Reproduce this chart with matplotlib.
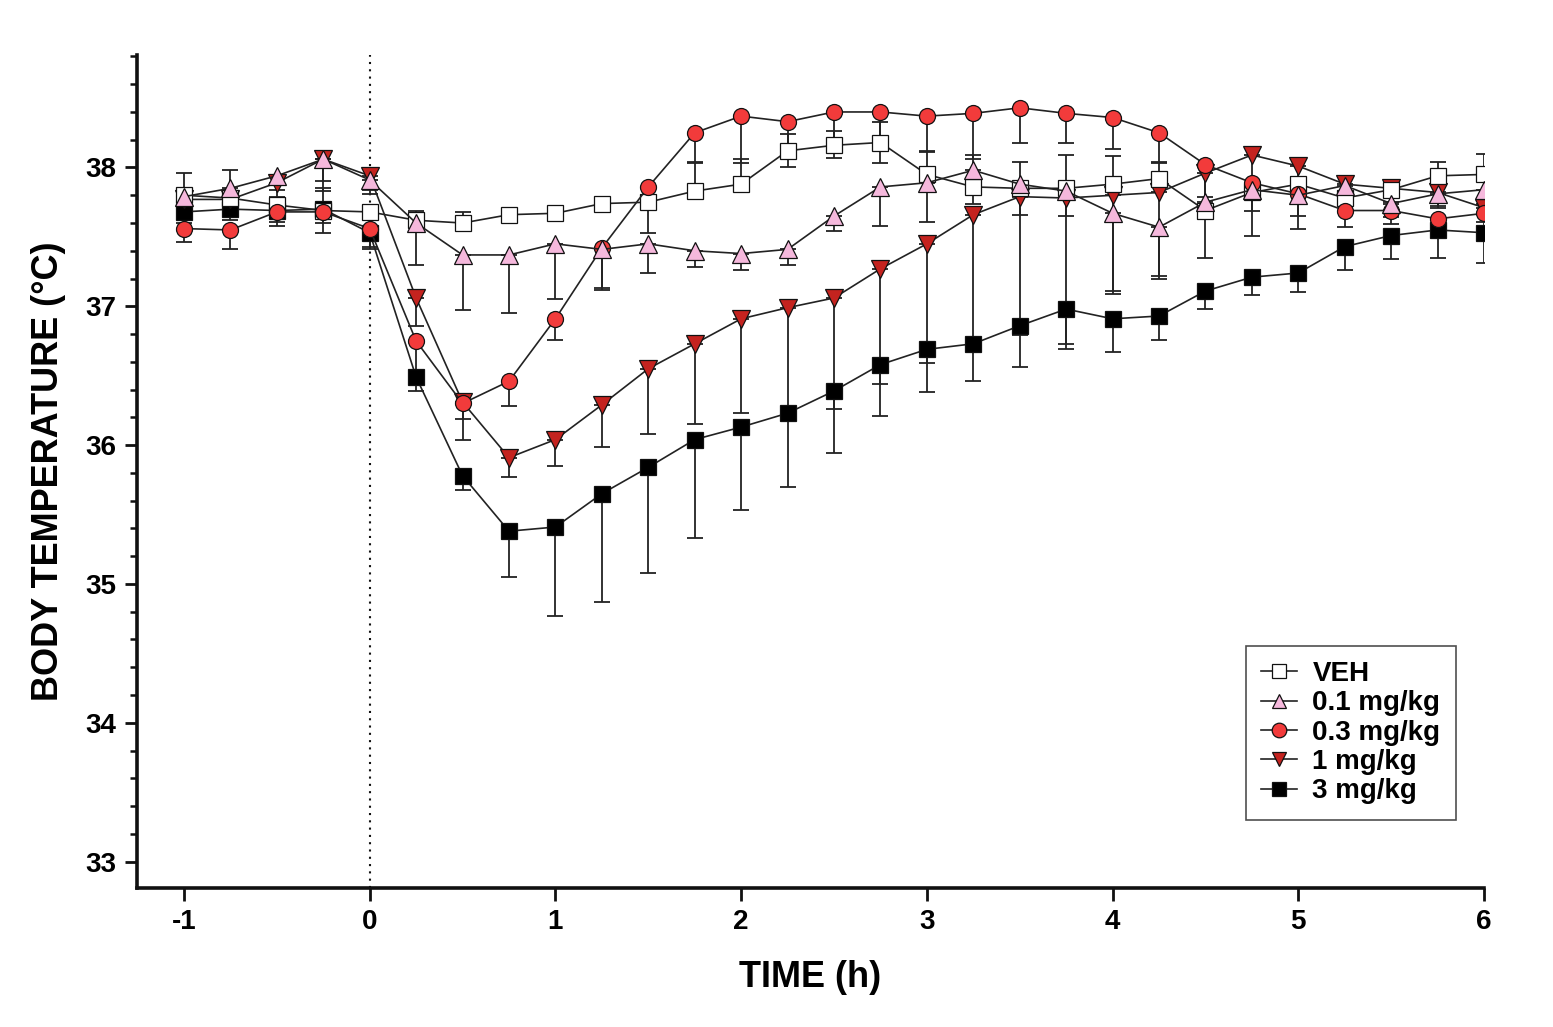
import numpy as np
import matplotlib
matplotlib.use("Agg")
import matplotlib.pyplot as plt
from matplotlib.ticker import MultipleLocator

plt.rcParams['font.family'] = ['Liberation Sans', 'DejaVu Sans']
plt.rcParams['axes.unicode_minus'] = False

time_h = [-1, -0.75, -0.5, -0.25, 0, 0.25, 0.5, 0.75, 1, 1.25, 1.5, 1.75, 2, 2.25, 2.5,
          2.75, 3, 3.25, 3.5, 3.75, 4, 4.25, 4.5, 4.75, 5, 5.25, 5.5, 5.75, 6]

veh = [37.80, 37.78, 37.73, 37.69, 37.68, 37.62, 37.60, 37.66, 37.67, 37.74, 37.75, 37.83, 37.88, 38.12, 38.16,
       38.18, 37.95, 37.86, 37.85, 37.85, 37.88, 37.92, 37.69, 37.82, 37.88, 37.78, 37.84, 37.94, 37.95]
veh_err = [0.16, 0.20, 0.06, 0.16, 0.05, 0.07, 0.08, 0.03, 0.03, 0.03, 0.05, 0.20, 0.18, 0.12, 0.10,
           0.15, 0.16, 0.23, 0.19, 0.24, 0.20, 0.12, 0.10, 0.05, 0.05, 0.05, 0.05, 0.10, 0.15]

dose01 = [37.79, 37.85, 37.94, 38.06, 37.91, 37.60, 37.37, 37.37, 37.45, 37.41, 37.45, 37.40, 37.38, 37.41, 37.65,
          37.86, 37.89, 37.98, 37.88, 37.83, 37.67, 37.57, 37.75, 37.84, 37.80, 37.87, 37.74, 37.81, 37.84]
dose01_err = [0.05, 0.05, 0.10, 0.16, 0.10, 0.30, 0.40, 0.42, 0.40, 0.29, 0.21, 0.12, 0.12, 0.11, 0.11,
              0.28, 0.28, 0.24, 0.22, 0.18, 0.58, 0.35, 0.40, 0.33, 0.24, 0.10, 0.10, 0.10, 0.10]

dose03 = [37.56, 37.55, 37.68, 37.68, 37.56, 36.75, 36.30, 36.46, 36.91, 37.42, 37.86, 38.25, 38.37, 38.33, 38.40,
          38.40, 38.37, 38.39, 38.43, 38.39, 38.36, 38.25, 38.02, 37.89, 37.81, 37.69, 37.69, 37.63, 37.67]
dose03_err = [0.10, 0.14, 0.10, 0.15, 0.15, 0.25, 0.11, 0.18, 0.15, 0.29, 0.33, 0.21, 0.34, 0.33, 0.33,
              0.37, 0.25, 0.33, 0.25, 0.21, 0.23, 0.22, 0.39, 0.20, 0.16, 0.12, 0.10, 0.10, 0.10]

dose1 = [37.77, 37.77, 37.89, 38.06, 37.94, 37.06, 36.31, 35.91, 36.04, 36.29, 36.55, 36.73, 36.91, 36.99, 37.06,
         37.27, 37.45, 37.66, 37.79, 37.78, 37.80, 37.82, 37.96, 38.09, 38.01, 37.88, 37.85, 37.82, 37.71]
dose1_err = [0.10, 0.10, 0.15, 0.23, 0.10, 0.20, 0.27, 0.14, 0.19, 0.30, 0.47, 0.58, 0.68, 0.75, 0.80,
             0.83, 0.86, 0.93, 1.00, 1.05, 0.69, 0.62, 0.30, 0.20, 0.20, 0.10, 0.10, 0.10, 0.10]

dose3 = [37.68, 37.70, 37.69, 37.70, 37.53, 36.49, 35.78, 35.38, 35.41, 35.65, 35.84, 36.04, 36.13, 36.23, 36.39,
         36.58, 36.69, 36.73, 36.86, 36.98, 36.91, 36.93, 37.11, 37.21, 37.24, 37.43, 37.51, 37.55, 37.53]
dose3_err = [0.08, 0.08, 0.08, 0.10, 0.10, 0.10, 0.10, 0.33, 0.64, 0.78, 0.76, 0.71, 0.60, 0.53, 0.45,
             0.37, 0.31, 0.27, 0.30, 0.29, 0.24, 0.17, 0.13, 0.13, 0.14, 0.17, 0.17, 0.20, 0.22]

labels = ['VEH', '0.1 mg/kg', '0.3 mg/kg', '1 mg/kg', '3 mg/kg']

fig = plt.figure(figsize=(15.53, 10.27), dpi=100)
ax = fig.add_axes([0.0882, 0.1354, 0.9556 - 0.0882, 0.9464 - 0.1354])

t = np.array(time_h)
zeros = np.zeros(len(t))

# series spec: values, err, direction (+1 up, -1 down), marker, face, zorder, label
series = [
    (dose3, dose3_err, -1, 's', '#000000', 3, '3 mg/kg'),
    (dose1, dose1_err, -1, 'v', '#C4231F', 4, '1 mg/kg'),
    (veh, veh_err, +1, 's', '#FFFFFF', 5, 'VEH'),
    (dose03, dose03_err, -1, 'o', '#F23B3B', 6, '0.3 mg/kg'),
    (dose01, dose01_err, -1, '^', '#F5B8DC', 7, '0.1 mg/kg'),
]

# error bars first (behind everything)
for vals, err, d, m, fc, z, lbl in series:
    e = np.array(err)
    yerr = [zeros, e] if d > 0 else [e, zeros]
    ax.errorbar(t, vals, yerr=yerr, fmt='none', ecolor='#222222', elinewidth=1.3,
                capsize=6, capthick=1.3, zorder=2)

handles = {}
for vals, err, d, m, fc, z, lbl in series:
    ms = 11.5 if m in ('s', 'o') else 12.5
    h, = ax.plot(t, vals, color='#222222', lw=1.2, marker=m, markersize=ms,
                 markerfacecolor=fc, markeredgecolor='#111111', markeredgewidth=0.9,
                 zorder=z, label=lbl)
    handles[lbl] = h

ax.axvline(0, color='#111111', lw=1.5, ls=(0, (1, 2.5)), zorder=1)

ax.set_xlim(-1.253, 6)
ax.set_ylim(32.81, 38.81)
ax.set_xticks(range(-1, 7))
ax.set_yticks(range(33, 39))
ax.yaxis.set_minor_locator(MultipleLocator(0.2))

for s in ['top', 'right']:
    ax.spines[s].set_visible(False)
for s in ['left', 'bottom']:
    ax.spines[s].set_linewidth(2.6)
    ax.spines[s].set_color('#111111')

ax.tick_params(axis='both', which='major', direction='out', length=9, width=2,
               labelsize=20, pad=6, color='#111111')
ax.tick_params(axis='y', which='minor', direction='out', length=5, width=1.8, color='#111111')
for lab in ax.get_xticklabels() + ax.get_yticklabels():
    lab.set_fontweight('bold')

ax.set_xlabel('TIME (h)', fontsize=26, fontweight='bold', labelpad=18)
ax.set_ylabel('BODY TEMPERATURE (°C)', fontsize=26, fontweight='bold', labelpad=14)

leg = ax.legend([handles[l] for l in labels], labels, loc='lower right',
                bbox_to_anchor=(0.979, 0.082), borderaxespad=0, frameon=True,
                fancybox=False, edgecolor='#222222', handlelength=1.3,
                handletextpad=0.55, labelspacing=0.12, borderpad=0.55,
                prop={'weight': 'bold', 'size': 20})
leg.get_frame().set_linewidth(1.2)
for lh in leg.legend_handles:
    lh.set_markersize(10.5)

fig.savefig('out.png', dpi=100, facecolor='white')
